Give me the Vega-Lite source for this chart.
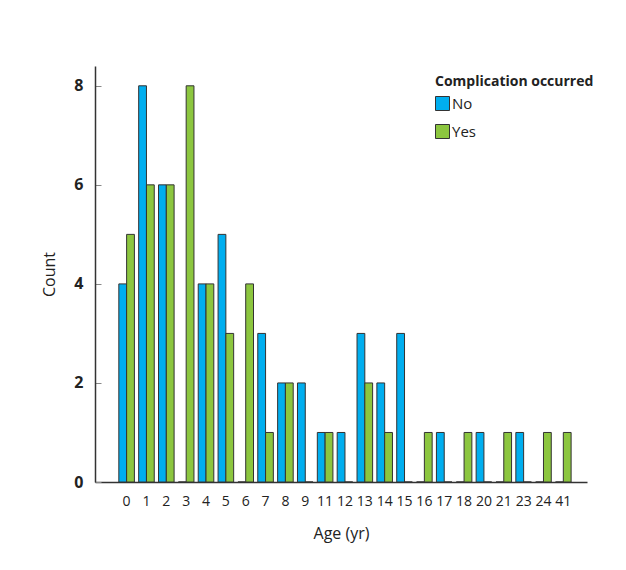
{
  "$schema": "https://vega.github.io/schema/vega-lite/v6.json",
  "autosize": {"type": "none"},
  "padding": {"left": 95, "top": 66, "right": 39, "bottom": 88},
  "width": 492,
  "height": 416,
  "background": "white",
  "config": {
    "font": "Open Sans",
    "view": {"stroke": null}
  },
  "data": {
    "values": [
      {"age": "0", "complication": "No", "count": 4},
      {"age": "0", "complication": "Yes", "count": 5},
      {"age": "1", "complication": "No", "count": 8},
      {"age": "1", "complication": "Yes", "count": 6},
      {"age": "2", "complication": "No", "count": 6},
      {"age": "2", "complication": "Yes", "count": 6},
      {"age": "3", "complication": "No", "count": 0},
      {"age": "3", "complication": "Yes", "count": 8},
      {"age": "4", "complication": "No", "count": 4},
      {"age": "4", "complication": "Yes", "count": 4},
      {"age": "5", "complication": "No", "count": 5},
      {"age": "5", "complication": "Yes", "count": 3},
      {"age": "6", "complication": "No", "count": 0},
      {"age": "6", "complication": "Yes", "count": 4},
      {"age": "7", "complication": "No", "count": 3},
      {"age": "7", "complication": "Yes", "count": 1},
      {"age": "8", "complication": "No", "count": 2},
      {"age": "8", "complication": "Yes", "count": 2},
      {"age": "9", "complication": "No", "count": 2},
      {"age": "9", "complication": "Yes", "count": 0},
      {"age": "11", "complication": "No", "count": 1},
      {"age": "11", "complication": "Yes", "count": 1},
      {"age": "12", "complication": "No", "count": 1},
      {"age": "12", "complication": "Yes", "count": 0},
      {"age": "13", "complication": "No", "count": 3},
      {"age": "13", "complication": "Yes", "count": 2},
      {"age": "14", "complication": "No", "count": 2},
      {"age": "14", "complication": "Yes", "count": 1},
      {"age": "15", "complication": "No", "count": 3},
      {"age": "15", "complication": "Yes", "count": 0},
      {"age": "16", "complication": "No", "count": 0},
      {"age": "16", "complication": "Yes", "count": 1},
      {"age": "17", "complication": "No", "count": 1},
      {"age": "17", "complication": "Yes", "count": 0},
      {"age": "18", "complication": "No", "count": 0},
      {"age": "18", "complication": "Yes", "count": 1},
      {"age": "20", "complication": "No", "count": 1},
      {"age": "20", "complication": "Yes", "count": 0},
      {"age": "21", "complication": "No", "count": 0},
      {"age": "21", "complication": "Yes", "count": 1},
      {"age": "23", "complication": "No", "count": 1},
      {"age": "23", "complication": "Yes", "count": 0},
      {"age": "24", "complication": "No", "count": 0},
      {"age": "24", "complication": "Yes", "count": 1},
      {"age": "41", "complication": "No", "count": 0},
      {"age": "41", "complication": "Yes", "count": 1}
    ]
  },
  "mark": {"type": "bar", "stroke": "#333333", "strokeWidth": 1},
  "encoding": {
    "x": {
      "field": "age",
      "type": "nominal",
      "sort": null,
      "scale": {"paddingInner": 0.215, "paddingOuter": 1.14, "align": 0.6},
      "axis": {
        "title": "Age (yr)",
        "labelAngle": 0,
        "ticks": false,
        "domainColor": "#333333",
        "domainWidth": 1.5,
        "labelFontSize": 14,
        "labelFontWeight": 500,
        "labelColor": "#222222",
        "labelPadding": 12,
        "titleFontSize": 16,
        "titleFontWeight": 500,
        "titleColor": "#222222",
        "titlePadding": 17
      }
    },
    "xOffset": {"field": "complication", "type": "nominal", "scale": {"domain": ["No", "Yes"], "paddingInner": 0}},
    "y": {
      "field": "count",
      "type": "quantitative",
      "scale": {"domain": [0, 8.4], "nice": false},
      "axis": {
        "title": "Count",
        "values": [0, 2, 4, 6, 8],
        "grid": false,
        "tickSize": -6,
        "tickColor": "#888888",
        "domainColor": "#333333",
        "domainWidth": 1.5,
        "labelFontSize": 16,
        "labelFontWeight": "bold",
        "labelColor": "#222222",
        "labelPadding": 18,
        "titleFontSize": 16,
        "titleFontWeight": 500,
        "titleColor": "#222222",
        "titlePadding": 16
      }
    },
    "color": {
      "field": "complication",
      "type": "nominal",
      "scale": {"domain": ["No", "Yes"], "range": ["#00AEEF", "#8CC63F"]},
      "legend": {
        "title": "Complication occurred",
        "orient": "none",
        "legendX": 340,
        "legendY": 9,
        "symbolType": "square",
        "symbolSize": 196,
        "symbolStrokeColor": "#333333",
        "symbolStrokeWidth": 1,
        "symbolOpacity": 1,
        "titleFontSize": 14,
        "titleFontWeight": "bold",
        "titleColor": "#222222",
        "titlePadding": 7,
        "labelFontSize": 15,
        "labelColor": "#222222",
        "labelOffset": 2,
        "rowPadding": 9
      }
    }
  }
}
